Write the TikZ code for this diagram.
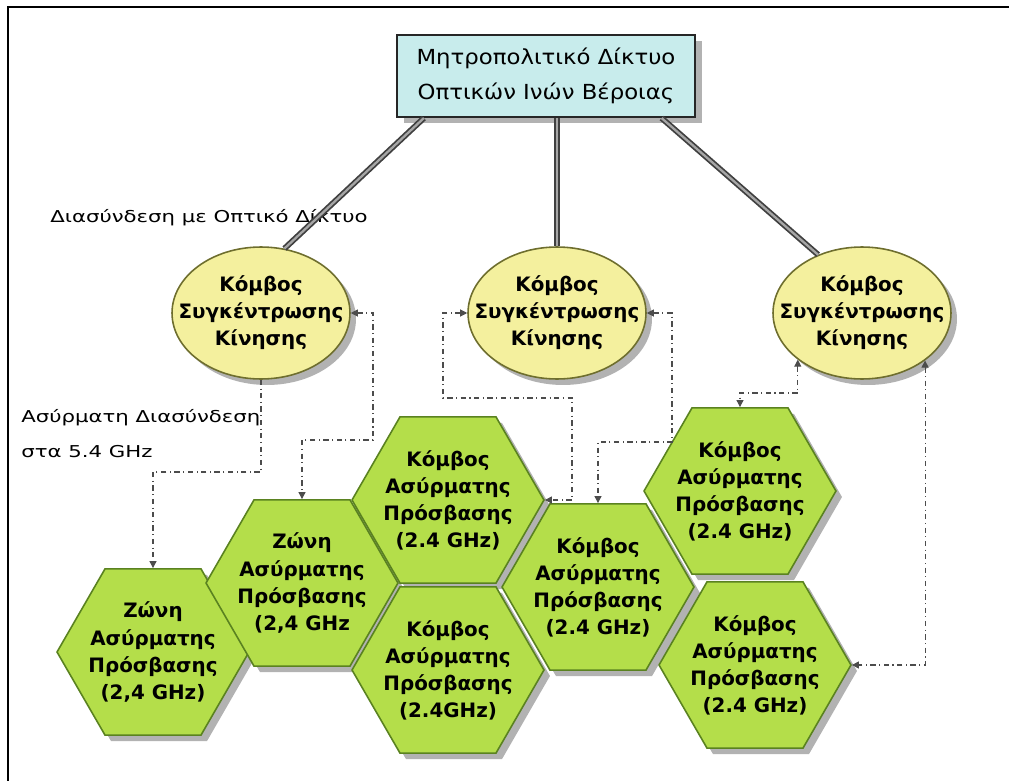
\documentclass[tikz,border=0pt]{standalone}
\usepackage{fontspec}
\setmainfont{DejaVu Sans}
\usetikzlibrary{shapes.geometric,shadows,arrows.meta}

\definecolor{boxcyan}{HTML}{C8ECEC}
\definecolor{hubyellow}{HTML}{F4F09E}
\definecolor{hubedge}{HTML}{6E6E2E}
\definecolor{cellgreen}{HTML}{B4DE4A}
\definecolor{celledge}{HTML}{5A8220}

\newcommand{\widetext}[2][1.3]{\scalebox{#1}[1]{#2}}

\tikzset{
  metrobox/.style={draw=black!85, line width=1.2pt, fill=boxcyan,
    minimum width=5.96cm, minimum height=1.64cm, inner sep=0pt, align=center,
    font=\fontsize{11.8}{19.9}\selectfont,
    drop shadow={shadow xshift=0.14cm, shadow yshift=-0.12cm, fill=black!30, opacity=1}},
  hub/.style={ellipse, draw=hubedge, line width=0.9pt, fill=hubyellow,
    minimum width=3.56cm, minimum height=2.64cm, inner sep=0pt,
    drop shadow={shadow xshift=0.12cm, shadow yshift=-0.12cm, fill=black!30, opacity=1}},
  cell/.style={regular polygon, regular polygon sides=6, draw=celledge, line width=0.9pt,
    fill=cellgreen, minimum size=3.84cm, inner sep=0pt,
    drop shadow={shadow xshift=0.12cm, shadow yshift=-0.12cm, fill=black!30, opacity=1}},
  celltext/.style={align=center, font=\bfseries\fontsize{11.3}{15.4}\selectfont},
  plain/.style={font=\fontsize{9.3}{19.9}\selectfont, inner sep=0pt, align=left},
  fibre/.style={draw=black!75, line width=1pt, double=black!35, double distance=1.3pt},
  radio/.style={draw=black!70, line width=0.6pt, dash dot},
  >={Triangle[length=4pt,width=4pt]}
}

\begin{document}
\begin{tikzpicture}[x=0.02cm, y=-0.02cm]
  \useasboundingbox (0,0) rectangle (1009,781);
  % frame
  \draw[line width=1.4pt] (1009,7) -- (8,7) -- (8,781);

  % top box
  \node[metrobox] (metro) at (546,76) {\widetext[1.1]{Μητροπολιτικό Δίκτυο}\\\widetext[1.1]{Οπτικών Ινών Βέροιας}};

  % labels
  \node[plain, anchor=west] (optlabel) at (50,218) {\widetext{Διασύνδεση με Οπτικό Δίκτυο}};
  \node[plain, anchor=north west] (wlabel) at (21,409) {\widetext{Ασύρματη Διασύνδεση}\\\widetext{στα 5.4 GHz}};

  % hubs
  \node[hub, label={[celltext]center:{Κόμβος\\Συγκέντρωσης\\Κίνησης}}] (lhub) at (261,313) {};
  \node[hub, label={[celltext]center:{Κόμβος\\Συγκέντρωσης\\Κίνησης}}] (mhub) at (557,313) {};
  \node[hub, label={[celltext]center:{Κόμβος\\Συγκέντρωσης\\Κίνησης}}] (rhub) at (862,313) {};

  % cells
  \node[cell, label={[celltext]center:{Ζώνη\\Ασύρματης\\Πρόσβασης\\(2,4 GHz)}}] (h1) at (153,652) {};
  \node[cell, label={[celltext]center:{Ζώνη\\Ασύρματης\\Πρόσβασης\\(2,4 GHz}}] (h2) at (302,583) {};
  \node[cell, label={[celltext]center:{Κόμβος\\Ασύρματης\\Πρόσβασης\\(2.4 GHz)}}] (h3) at (448,500) {};
  \node[cell, label={[celltext]center:{Κόμβος\\Ασύρματης\\Πρόσβασης\\(2.4GHz)}}] (h4) at (448,670) {};
  \node[cell, label={[celltext]center:{Κόμβος\\Ασύρματης\\Πρόσβασης\\(2.4 GHz)}}] (h5) at (598,587) {};
  \node[cell, label={[celltext]center:{Κόμβος\\Ασύρματης\\Πρόσβασης\\(2.4 GHz)}}] (h6) at (740,491) {};
  \node[cell, label={[celltext]center:{Κόμβος\\Ασύρματης\\Πρόσβασης\\(2.4 GHz)}}] (h7) at (755,665) {};

  % fibre links
  \draw[fibre] (metro.-161) -- (lhub.70);
  \draw[fibre] (mhub.north |- metro.south) -- (mhub.north);
  \draw[fibre] (metro.-20) -- (rhub.127);

  % wireless links
  \coordinate (c1) at (0,472);
  \coordinate (c2) at (373,440);
  \coordinate (c3a) at (443,398);
  \coordinate (c3b) at (572,398);
  \coordinate (c4) at (672,442);
  \coordinate (c5) at (0,393);
  \draw[radio, ->] (lhub.south) -- (lhub.south |- c1) -| (h1.90);
  \draw[radio, <->] (lhub.east) -| (c2) -| (h2.90);
  \draw[radio, <->] (mhub.west) -| (c3a) -- (c3b) |- (h3.0);
  \draw[radio, <->] (mhub.east) -| (c4) -| (h5.90);
  \draw[radio, <->] (rhub.216) -- (rhub.216 |- c5) -| (h6.90);
  \draw[radio, <->] (rhub.-37) |- (h7.0);
\end{tikzpicture}
\end{document}
